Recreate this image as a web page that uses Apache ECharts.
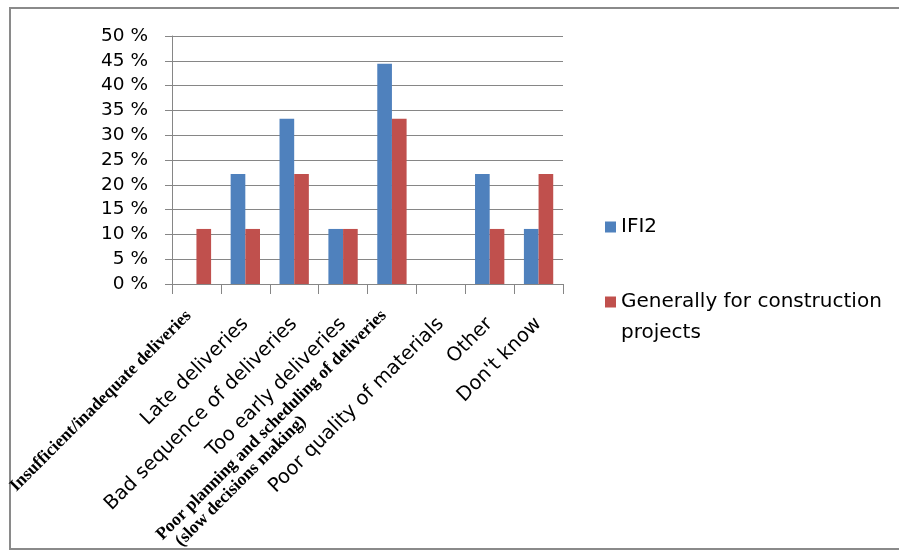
<!DOCTYPE html>
<html>
<head>
<meta charset="utf-8">
<script src="https://cdn.jsdelivr.net/npm/echarts@6/dist/echarts.min.js"></script>
<style>
html,body{margin:0;padding:0;background:#fff;}
#chart{width:899px;height:551px;}
</style>
</head>
<body>
<div id="chart"></div>
<script>
var categories = [
  'Insufficient/inadequate deliveries',
  'Late deliveries',
  'Bad sequence of deliveries',
  'Too early deliveries',
  'Poor planning and scheduling of deliveries\n(slow decisions making)',
  'Poor quality of materials',
  'Other',
  "Don't know"
];
var serifCategories = [0, 4];
var seriesNames = ['IFI2', 'Generally for construction projects'];
var ifi2Values = [0, 22.2, 33.3, 11.1, 44.4, 0, 22.2, 11.1];
var generalValues = [11.1, 11.1, 22.2, 11.1, 33.3, 0, 11.1, 22.2];
var yTicks = [0, 5, 10, 15, 20, 25, 30, 35, 40, 45, 50];

var chart = echarts.init(document.getElementById('chart'), null, {renderer: 'canvas'});
var sans = 'DejaVu Sans';
var serif = 'Liberation Serif';

var categoryData = categories.map(function (c, i) {
  if (i === 0) {
    return {value: c, textStyle: {padding: [0, 0, 22, 0]}};
  }
  if (i === 4) {
    return {value: c, textStyle: {padding: [0, 0, 5, 0]}};
  }
  return {value: c, textStyle: {padding: [0, 0, 0, 0]}};
});

chart.setOption({
  animation: false,
  backgroundColor: '#ffffff',
  graphic: [{
    type: 'rect', silent: true, z: -1,
    shape: {x: 10, y: 8, width: 940, height: 541},
    style: {fill: 'none', stroke: '#8a8a8a', lineWidth: 2}
  }],
  grid: {left: 172, right: 336, top: 36, bottom: 267, containLabel: false, outerBoundsMode: 'none'},
  legend: [{
    data: [seriesNames[0]],
    orient: 'vertical', left: 605, top: 216, padding: 0,
    itemWidth: 11, itemHeight: 11, icon: 'rect',
    textStyle: {fontFamily: sans, fontSize: 20, color: '#000', lineHeight: 22}
  }, {
    data: [seriesNames[1]],
    orient: 'vertical', left: 605, top: 261, padding: 0,
    itemWidth: 11, itemHeight: 11, icon: 'rect',
    formatter: function (name) {
      var parts = name.split(' ');
      return '{sp| }\n{t|' + parts.slice(0, 3).join(' ') + '}\n{t|' + parts.slice(3).join(' ') + '}';
    },
    textStyle: {
      fontFamily: sans, fontSize: 20, color: '#000',
      rich: {
        sp: {fontFamily: sans, fontSize: 20, lineHeight: 31},
        t: {fontFamily: sans, fontSize: 20, lineHeight: 31, color: '#000', align: 'left'}
      }
    }
  }],
  xAxis: {
    type: 'category',
    data: categoryData,
    axisLine: {lineStyle: {color: '#868686', width: 1}},
    axisTick: {show: true, length: 10, lineStyle: {color: '#868686'}},
    axisLabel: {
      interval: 0, rotate: 45, margin: 37,
      formatter: function (value, idx) {
        if (serifCategories.indexOf(idx) >= 0) {
          var lines = value.split('\n');
          return lines.map(function (l, k) { return (k === 0 ? '{s|' : '{s2|') + l + '}'; }).join('\n');
        }
        return '{n|' + value + '}';
      },
      rich: {
        n: {fontFamily: sans, fontSize: 19.5, color: '#000'},
        s: {fontFamily: serif, fontSize: 17.5, fontWeight: 'bold', color: '#000', lineHeight: 18},
        s2: {fontFamily: serif, fontSize: 17.5, fontWeight: 'bold', color: '#000', lineHeight: 18, align: 'left', padding: [0, 0, 0, 9]}
      }
    }
  },
  yAxis: {
    type: 'value',
    min: 0, max: 50, interval: 5,
    axisLine: {show: true, lineStyle: {color: '#868686'}},
    axisTick: {show: true, length: 7, lineStyle: {color: '#868686'}},
    splitLine: {lineStyle: {color: '#868686', width: 1}},
    axisLabel: {
      margin: 24,
      fontFamily: sans, fontSize: 18.5, color: '#000',
      formatter: function (v) { return v + ' %'; }
    }
  },
  series: [{
    name: seriesNames[0], type: 'bar', data: ifi2Values,
    barGap: '0%', barCategoryGap: '40%',
    itemStyle: {color: '#4F81BD'}
  }, {
    name: seriesNames[1], type: 'bar', data: generalValues,
    barGap: '0%', barCategoryGap: '40%',
    itemStyle: {color: '#C0504D'}
  }]
});
</script>
</body>
</html>
